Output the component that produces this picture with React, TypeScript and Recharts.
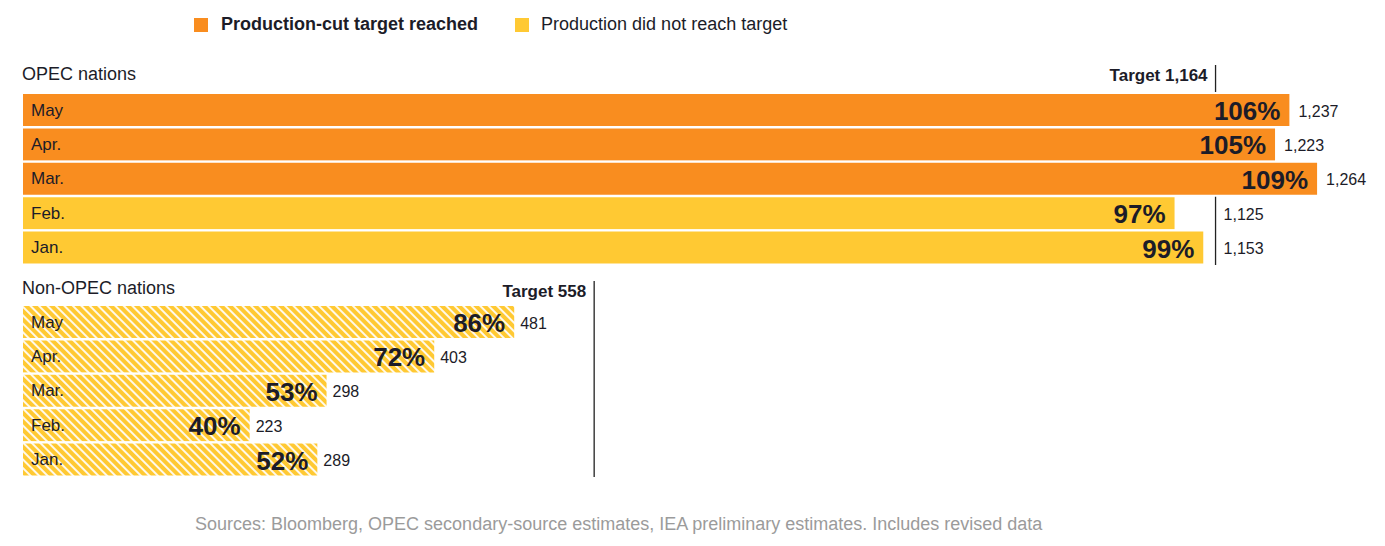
import React from 'react'
import { BarChart, Bar, XAxis, YAxis, Cell, LabelList, ReferenceLine } from 'recharts'

const months = ['May', 'Apr.', 'Mar.', 'Feb.', 'Jan.']
const opecValues = [1237, 1223, 1264, 1125, 1153]
const opecPct = [106, 105, 109, 97, 99]
const nonOpecValues = [481, 403, 298, 223, 289]
const nonOpecPct = [86, 72, 53, 40, 52]
const opecTarget = 1164
const nonOpecTarget = 558

const ORANGE = '#F98D1F'
const YELLOW = '#FFC933'
const INK = '#1c1c28'
const FONT = '"Liberation Sans", Arial, sans-serif'

const opecData = months.map((m, i) => ({ month: m, value: opecValues[i], pct: opecPct[i] }))
const nonOpecData = months.map((m, i) => ({ month: m, value: nonOpecValues[i], pct: nonOpecPct[i] }))

const W = 1385
const H = 208
const MARGIN = { top: 31, right: 30, bottom: 5, left: 22 }

function MonthLabel(props: any) {
  const { x, y, height, value } = props
  return (
    <text x={x + 9} y={y + height / 2} dominantBaseline="central" fontSize={17} fill={INK} fontFamily={FONT}>
      {value}
    </text>
  )
}

function PctLabel(props: any) {
  const { x, y, width, height, value } = props
  return (
    <text x={x + width - 10} y={y + height / 2 + 1} dominantBaseline="central" textAnchor="end"
      fontSize={26} fontWeight="bold" fill={INK} fontFamily={FONT}>
      {value}%
    </text>
  )
}

// value sits after the bar, or after the target line when the bar stops short of it
const makeValueLabel = (target: number, clearTarget: boolean, gap: number) => (props: any) => {
  const { x, y, width, height, value } = props
  const end = x + width
  const targetX = x + (target * width) / value
  const lx = (clearTarget ? Math.max(end, targetX) : end) + gap
  return (
    <text x={lx} y={y + height / 2 + 1} dominantBaseline="central" fontSize={16} fill={INK} fontFamily={FONT}>
      {value.toLocaleString('en-US')}
    </text>
  )
}

const makeTargetLine = (label: string, extend: number) => (props: any) => {
  const { x1 } = props
  const top = Math.min(props.y1, props.y2)
  const bottom = Math.max(props.y1, props.y2)
  return (
    <g>
      <line x1={x1} x2={x1} y1={top - extend} y2={bottom} stroke="#222" strokeWidth={1.3} />
      <text x={x1 - 8} y={top - extend + 10} dominantBaseline="central" textAnchor="end"
        fontSize={17} fontWeight="bold" fill={INK} fontFamily={FONT}>
        {label}
      </text>
    </g>
  )
}

function Section({ data, target, label, hatched, top, extend }: any) {
  return (
    <div style={{ position: 'absolute', left: 0, top, width: W, height: H }}>
      {/* back layer: target line, so bars cover it */}
      <div style={{ position: 'absolute', left: 0, top: 0 }}>
        <BarChart width={W} height={H} data={data} layout="vertical" margin={MARGIN} barCategoryGap={0}>
          <XAxis type="number" hide domain={[0, 1300]} allowDataOverflow />
          <YAxis type="category" dataKey="month" hide />
          <ReferenceLine x={target} ifOverflow="visible" shape={makeTargetLine(label, extend)} />
        </BarChart>
      </div>
      <div style={{ position: 'absolute', left: 0, top: 0 }}>
        <BarChart width={W} height={H} data={data} layout="vertical" margin={MARGIN} barCategoryGap={0}>
          <XAxis type="number" hide domain={[0, 1300]} allowDataOverflow />
          <YAxis type="category" dataKey="month" hide />
          <Bar dataKey="value" isAnimationActive={false} stroke="#fff" strokeWidth={2}>
            {data.map((d: any, i: number) => (
              <Cell key={i} fill={hatched ? 'url(#hatch)' : d.pct >= 100 ? ORANGE : YELLOW} />
            ))}
            <LabelList dataKey="month" content={MonthLabel} />
            <LabelList dataKey="pct" content={PctLabel} />
            <LabelList dataKey="value" content={makeValueLabel(target, !hatched, hatched ? 5 : 8)} />
          </Bar>
        </BarChart>
      </div>
    </div>
  )
}

export default function App() {
  return (
    <div style={{ position: 'relative', width: W, height: 546, fontFamily: FONT, color: INK, background: '#fff' }}>
      <style>{'body{margin:0}'}</style>
      <svg width={10} height={10} style={{ position: 'absolute', left: -50, top: -50 }}>
        <defs>
          <pattern id="hatch" patternUnits="userSpaceOnUse" x={0} y={0} width={6} height={6}
            patternTransform="rotate(45)">
            <rect x={0} y={0} width={6} height={6} fill={YELLOW} />
            <line x1={0} y1={1} x2={6} y2={1} stroke="#fff" strokeWidth={1.8} />
          </pattern>
        </defs>
      </svg>

      <div style={{ position: 'absolute', top: 14, left: 194, display: 'flex', alignItems: 'center', fontSize: 18 }}>
        <span style={{ width: 14, height: 14, background: ORANGE, display: 'inline-block', marginRight: 13 }} />
        <span style={{ fontWeight: 'bold' }}>Production-cut target reached</span>
        <span style={{ width: 14, height: 14, background: YELLOW, display: 'inline-block', marginLeft: 37, marginRight: 12 }} />
        <span>Production did not reach target</span>
      </div>

      <div style={{ position: 'absolute', top: 64, left: 22, fontSize: 18 }}>OPEC nations</div>
      <Section data={opecData} target={opecTarget} label="Target 1,164" top={62} extend={28} />

      <div style={{ position: 'absolute', top: 278, left: 22, fontSize: 18 }}>Non-OPEC nations</div>
      <Section data={nonOpecData} target={nonOpecTarget} label="Target 558" hatched top={274} extend={24} />

      <div style={{ position: 'absolute', top: 514, left: 195, fontSize: 18, color: '#9b9b9b' }}>
        Sources: Bloomberg, OPEC secondary-source estimates, IEA preliminary estimates. Includes revised data
      </div>
    </div>
  )
}
